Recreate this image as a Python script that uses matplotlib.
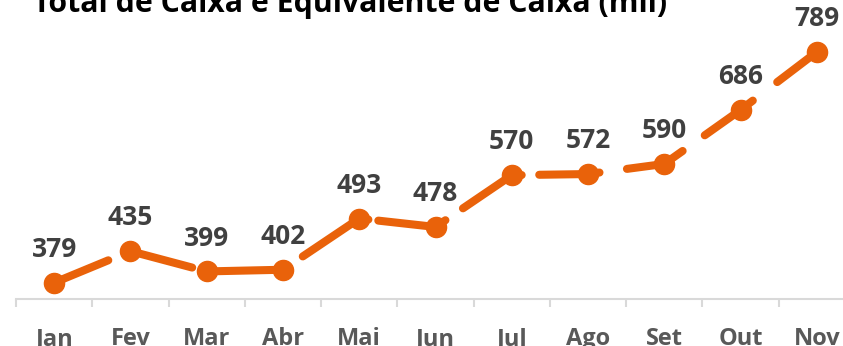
import matplotlib
matplotlib.use("Agg")
import matplotlib.pyplot as plt
from matplotlib.ticker import FixedLocator

plt.rcParams['font.family'] = ['Open Sans', 'DejaVu Sans']

months = ["Jan", "Fev", "Mar", "Abr", "Mai", "Jun", "Jul", "Ago", "Set", "Out", "Nov"]
caixa = [379, 435, 399, 402, 493, 478, 570, 572, 590, 686, 789]
title = "Total de Caixa e Equivalente de Caixa (mil)"

# Broken-line styling: for each segment, the hidden stretch as fractions
# of the way from one month to the next (None = solid segment).
segment_gaps = [(0.71, 1.0), (0.81, 1.0), None, (0.0, 0.26), (0.12, 0.25),
                (0.13, 0.36), (0.13, 0.36), (0.15, 0.51), (0.24, 0.53),
                (0.16, 0.48)]

orange = "#E9620A"
label_gray = "#404040"
tick_gray = "#595959"
axis_gray = "#D9D9D9"

W, H = 843, 346
fig = plt.figure(figsize=(W / 100, H / 100), dpi=100)
ax = fig.add_axes([16 / W, (H - 299) / H, 839 / W, (299 - 17.6) / H])

x = list(range(len(months)))


def point_at(i, t):
    return x[i] + t, caixa[i] + t * (caixa[i + 1] - caixa[i])


line_kw = dict(color=orange, lw=5.8, solid_capstyle="round", zorder=3,
               clip_on=False)
for i, gap in enumerate(segment_gaps):
    pieces = [(0.0, 1.0)] if gap is None else [(0.0, gap[0]), (gap[1], 1.0)]
    for t0, t1 in pieces:
        if t1 - t0 <= 1e-6:
            continue
        (xa, ya), (xb, yb) = point_at(i, t0), point_at(i, t1)
        ax.plot([xa, xb], [ya, yb], **line_kw)

ax.plot(x, caixa, linestyle="none", marker="o", ms=14.5, color=orange,
        zorder=4, clip_on=False)

for xi, v in zip(x, caixa):
    ax.annotate(f"{v}", (xi, v), xytext=(0, 24), textcoords="offset points",
                ha="center", va="center", fontsize=19, fontweight="bold",
                color=label_gray, zorder=5)

ax.set_xlim(-0.5, len(months) - 0.5)
ax.set_ylim(350, 850)

for s in ("top", "right", "left"):
    ax.spines[s].set_visible(False)
ax.spines["bottom"].set_color(axis_gray)
ax.spines["bottom"].set_linewidth(1.5)
ax.set_yticks([])

ax.set_xticks(x)
ax.set_xticklabels(months, fontsize=17, fontweight="bold", color=tick_gray)
ax.tick_params(axis="x", which="major", length=0, pad=20)
ax.xaxis.set_minor_locator(FixedLocator([i - 0.5 for i in range(len(months) + 1)]))
ax.tick_params(axis="x", which="minor", length=6, width=1.5, color=axis_gray)

fig.text(33 / W, (H - 12) / H, title, fontsize=21.8, fontweight="bold",
         color="black", ha="left", va="baseline")

fig.savefig("out.png", dpi=100)
